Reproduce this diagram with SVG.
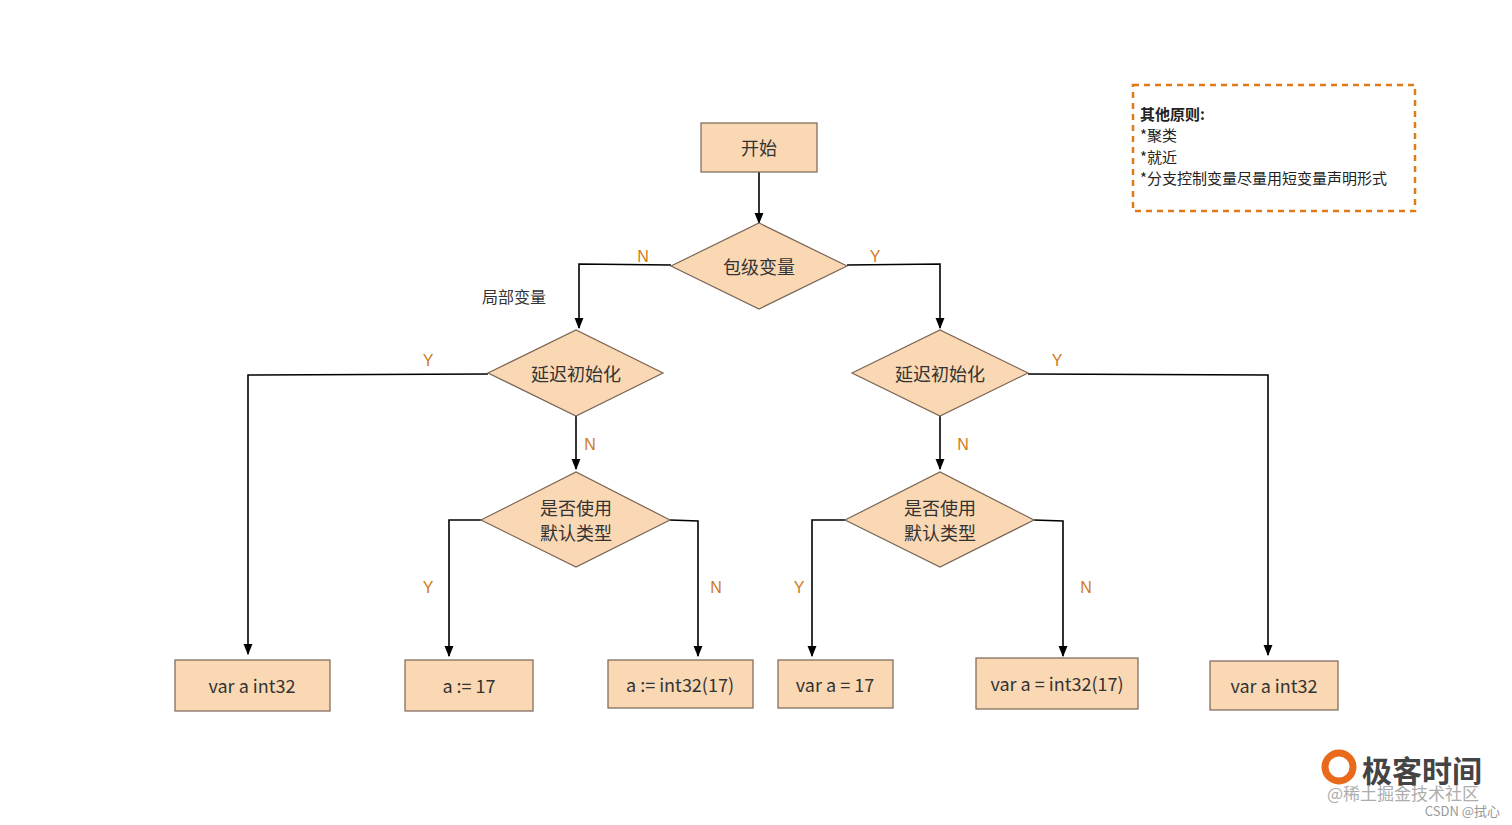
<svg xmlns="http://www.w3.org/2000/svg" width="1512" height="825" viewBox="0 0 1512 825">
<style>
.n{fill:#fad8b4;stroke:#7a6555;stroke-width:1.2}
.t{font-family:"Noto Sans CJK SC","Liberation Sans",sans-serif;font-size:18px;fill:#333;text-anchor:middle;dominant-baseline:central}
.c{fill:none;stroke:#000;stroke-width:1.6;marker-end:url(#a)}
.l{font-family:"Liberation Sans",sans-serif;font-size:16px;fill:#d07a1c;text-anchor:middle;dominant-baseline:central}
.note{font-family:"Noto Sans CJK SC",sans-serif;font-size:15px;fill:#222}
</style>
<defs><marker id="a" viewBox="0 0 10 10" refX="9" refY="5" markerWidth="7" markerHeight="7" orient="auto"><path d="M0,1 L10,5 L0,9 Z" fill="#000"/></marker></defs>
<rect width="1512" height="825" fill="#fff"/>
<g id="connectors">
<path class="c" d="M759,172 V223"/>
<path class="c" d="M671,265 L579,264 V328"/>
<path class="c" d="M847,265 L940,264 V328"/>
<path class="c" d="M488,374 L248,375 V654"/>
<path class="c" d="M576,416 V469"/>
<path class="c" d="M1028,374 L1268,375 V655"/>
<path class="c" d="M940,416 V469"/>
<path class="c" d="M481,520 H449 V656"/>
<path class="c" d="M670,520 L698,521 V656"/>
<path class="c" d="M845,520 H812 V656"/>
<path class="c" d="M1034,520 L1063,521 V656"/>
<text class="l" x="643" y="256">N</text>
<text class="l" x="875" y="256">Y</text>
<text class="l" x="428" y="360">Y</text>
<text class="l" x="590" y="444">N</text>
<text class="l" x="1057" y="360">Y</text>
<text class="l" x="963" y="444">N</text>
<text class="l" x="428" y="587">Y</text>
<text class="l" x="716" y="587">N</text>
<text class="l" x="799" y="587">Y</text>
<text class="l" x="1086" y="587">N</text>
<text class="t" x="514" y="296" style="font-size:16px">局部变量</text>
</g>
<g id="start"><rect class="n" x="701" y="123" width="116" height="49"/><text class="t" x="759" y="147">开始</text></g>
<g id="d1"><polygon class="n" points="671,266 759,223 847,266 759,309"/><text class="t" x="759" y="266">包级变量</text></g>
<g id="d2"><polygon class="n" points="488,373 576,330 663,373 576,416"/><text class="t" x="576" y="373">延迟初始化</text></g>
<g id="d3"><polygon class="n" points="852,373 940,330 1028,373 940,416"/><text class="t" x="940" y="373">延迟初始化</text></g>
<g id="d4"><polygon class="n" points="481,520 576,472 670,520 576,567"/><text class="t" x="576" y="507">是否使用</text><text class="t" x="576" y="532">默认类型</text></g>
<g id="d5"><polygon class="n" points="845,520 940,472 1034,520 940,567"/><text class="t" x="940" y="507">是否使用</text><text class="t" x="940" y="532">默认类型</text></g>
<g id="b1"><rect class="n" x="175" y="660" width="155" height="51"/><text class="t" x="252" y="685">var a int32</text></g>
<g id="b2"><rect class="n" x="405" y="660" width="128" height="51"/><text class="t" x="469" y="685">a := 17</text></g>
<g id="b3"><rect class="n" x="608" y="660" width="145" height="48"/><text class="t" x="680" y="684">a := int32(17)</text></g>
<g id="b4"><rect class="n" x="778" y="660" width="115" height="48"/><text class="t" x="835" y="684">var a = 17</text></g>
<g id="b5"><rect class="n" x="976" y="658" width="162" height="51"/><text class="t" x="1057" y="683">var a = int32(17)</text></g>
<g id="b6"><rect class="n" x="1210" y="661" width="128" height="49"/><text class="t" x="1274" y="685">var a int32</text></g>
<g id="note">
<rect x="1133" y="85" width="282" height="126" fill="none" stroke="#e07b1a" stroke-width="2.5" stroke-dasharray="6,5"/>
<text class="note" x="1140" y="120" font-weight="bold">其他原则:</text>
<text class="note" x="1140" y="141">*聚类</text>
<text class="note" x="1140" y="163">*就近</text>
<text class="note" x="1140" y="184">*分支控制变量尽量用短变量声明形式</text>
</g>
<g id="wm">
<circle cx="1339" cy="767" r="14" fill="none" stroke="#e86a1a" stroke-width="7"/>
<text x="1362" y="782" font-family="Noto Sans CJK SC,sans-serif" font-size="30" font-weight="bold" fill="#444">极客时间</text>
<text x="1327" y="800" font-family="Noto Sans CJK SC,sans-serif" font-size="17" fill="#999" opacity="0.8">@稀土掘金技术社区</text>
<text x="1500" y="816" text-anchor="end" font-family="Noto Sans CJK SC,sans-serif" font-size="13" fill="#999">CSDN @拭心</text>
</g>
</svg>
